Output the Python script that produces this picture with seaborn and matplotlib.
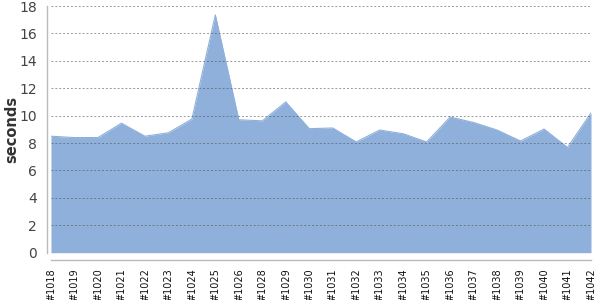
import matplotlib
matplotlib.use("Agg")
import matplotlib.pyplot as plt
import seaborn as sns
import numpy as np
import pandas as pd

builds = ["#1018", "#1019", "#1020", "#1021", "#1022", "#1023", "#1024", "#1025",
          "#1026", "#1028", "#1029", "#1030", "#1031", "#1032", "#1033", "#1034",
          "#1035", "#1036", "#1037", "#1038", "#1039", "#1040", "#1041", "#1042"]
seconds = [8.5, 8.4, 8.4, 9.45, 8.5, 8.75, 9.75, 17.35,
           9.7, 9.62, 11.0, 9.05, 9.1, 8.08, 8.95, 8.68,
           8.08, 9.9, 9.5, 8.95, 8.15, 9.02, 7.68, 10.2]
yticks = [0, 2, 4, 6, 8, 10, 12, 14, 16, 18]

df = pd.DataFrame({"build": builds, "seconds": seconds, "pos": np.arange(len(builds))})

sns.set_style("white")
fig = plt.figure(figsize=(6, 3), dpi=100)
ax = fig.add_axes([51/600, 1 - 252.7/300, 540/600, (252.7 - 6)/300])

fill = "#8EB0DA"
sns.lineplot(data=df, x="pos", y="seconds", ax=ax, color=fill, linewidth=0.8)
ax.fill_between(df["pos"], 0, df["seconds"], color=fill, linewidth=0, zorder=1)

for s in ["top", "right"]:
    ax.spines[s].set_visible(False)
ax.spines["left"].set_position(("outward", 3))
ax.spines["bottom"].set_position(("outward", 5))
for s in ["left", "bottom"]:
    ax.spines[s].set_color("#BBBBBB")
    ax.spines[s].set_linewidth(1.0)
ax.tick_params(axis="both", which="both", direction="out", length=4, width=0.8, color="#BBBBBB")
ax.tick_params(axis="x", pad=2, labelsize=7, labelcolor="#111111", labelrotation=90)
ax.tick_params(axis="y", pad=3, labelsize=10, labelcolor="#444444")

ax.set_xlim(0, len(builds) - 1)
ax.set_ylim(0, 18)
ax.set_yticks(yticks)
ax.set_yticklabels([str(v) for v in yticks])
ax.set_xticks(df["pos"])
ax.set_xticklabels(builds)
ax.set_xlabel("")
ax.set_ylabel("seconds", fontsize=10.5, fontweight="bold", color="#333333")
ax.yaxis.set_label_coords(-32/540, 0.5)

ax.yaxis.grid(True, linestyle=(0, (2, 2)), color="#555555", linewidth=0.7, alpha=0.6)
ax.set_axisbelow(False)
for l in ax.get_ygridlines():
    l.set_zorder(3)

fig.savefig("out.png", dpi=100)
